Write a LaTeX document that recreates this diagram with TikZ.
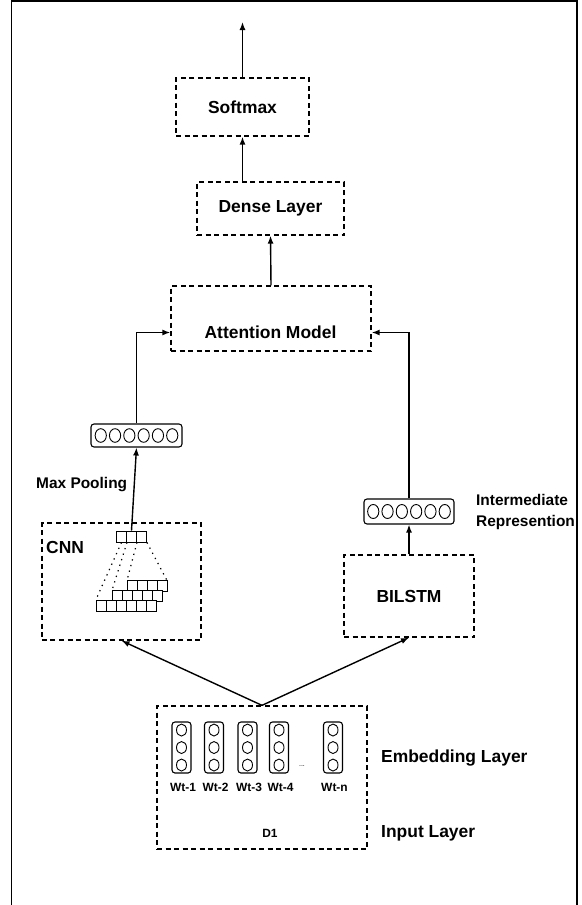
\documentclass[tikz,border=0pt]{standalone}
\usepackage{fontspec}
\setmainfont{Liberation Sans}
\usetikzlibrary{arrows.meta}

\begin{document}
\begin{tikzpicture}[x=1bp,y=-1bp,
        layer/.style={draw,dash pattern=on 5bp off 3.5bp,line width=1.3bp,
            inner sep=0pt,font=\fontsize{17.5}{20}\selectfont\bfseries},
        boxtext/.style={inner sep=0pt,font=\fontsize{17.5}{20}\selectfont\bfseries},
        note/.style={inner sep=0pt,align=left,
            font=\fontsize{15.5}{22}\selectfont\bfseries},
        small/.style={inner sep=0pt,font=\fontsize{12}{14}\selectfont\bfseries},
        vec/.style={draw,rounded corners=3bp,line width=1.1bp,inner sep=0pt},
        cell/.style={draw,fill=white,line width=0.9bp,minimum width=10bp,
            minimum height=11bp,inner sep=0pt},
        link/.style={line width=1.4bp,-{Latex[length=8bp,width=6bp]}}]
    \useasboundingbox (0,0) rectangle (582,905);
    \draw[line width=1.8bp] (11.5,910) -- (11.5,1) -- (577,1) -- (577,910);

    % upper layers
    \node[layer,minimum width=133bp,minimum height=58bp] (softmax) at (242.5,107) {Softmax};
    \node[layer,minimum width=147bp,minimum height=53bp] (dense) at (270.5,208.5) {Dense Layer};
    \node[layer,minimum width=200bp,minimum height=65bp] (attn) at (271,318.5) {};
    \node[boxtext] (attntxt) at (270.5,332.5) {Attention Model};
    \coordinate (out) at (242.5,22);

    \draw[link] (softmax.north) -- (out);
    \draw[link] (dense.north -| softmax.south) -- (softmax.south);
    \draw[link] (attn.north) -- (dense.south);

    % CNN branch
    \node[vec,minimum width=91bp,minimum height=23bp] (poolvec) at (136.5,435.5) {};
    \foreach \i in {1,...,6}
        \draw[line width=0.9bp] ([xshift={(\i-3.5)*14.3bp}]poolvec.center) ellipse (5.6bp and 6.8bp);
    \node[note,anchor=west] (pooltxt) at (36,485) {Max Pooling};
    \node[layer,minimum width=159bp,minimum height=117bp] (cnn) at (121.5,581.5) {};
    \node[boxtext,anchor=west] (cnntxt) at (46,547) {CNN};

    \foreach \i in {1,2,3}
        \node[cell] (filt\i) at (111.5+\i*10,536.5) {};
    \draw[dash pattern=on 1.3bp off 4.5bp,line width=1.2bp] (filt1.south) -- (96,599.5);
    \draw[dash pattern=on 1.3bp off 4.5bp,line width=1.2bp] (filt1.south east) -- (112,590.5);
    \draw[dash pattern=on 1.3bp off 4.5bp,line width=1.2bp] (filt2.south east) -- (127,580.5);
    \draw[dash pattern=on 1.3bp off 4.5bp,line width=1.2bp] (filt3.south east) -- (167,580.5);
    \foreach \i in {1,...,4}
        \node[cell] (top\i) at (122+\i*10,586) {};
    \foreach \i in {1,...,5}
        \node[cell] (mid\i) at (107+\i*10,596) {};
    \foreach \i in {1,...,6}
        \node[cell] (bot\i) at (91+\i*10,605.5) {};

    \draw[link] (filt2.north) -- (poolvec.south);
    \draw[link] (poolvec.north) |- (attn.west |- attntxt.center);

    % BILSTM branch
    \node[vec,minimum width=90bp,minimum height=25bp] (imvec) at (409,511.5) {};
    \foreach \i in {1,...,6}
        \draw[line width=0.9bp] ([xshift={(\i-3.5)*14.3bp}]imvec.center) ellipse (5.6bp and 7bp);
    \node[note,anchor=west] (imtxt) at (476,512) {Intermediate\\Represention};
    \node[layer,minimum width=130bp,minimum height=82bp] (bilstm) at (409,596) {BILSTM};

    \draw[link] (bilstm.north) -- (imvec.south);
    \draw[link] (imvec.north) |- (attn.east |- attntxt.center);

    % input
    \node[layer,minimum width=210bp,minimum height=143bp] (input) at (262,777.5) {};
    \foreach \x/\n in {181.5/1,214/2,247.5/3,279/4,333/n} {
        \node[vec,minimum width=19bp,minimum height=51bp] (emb\n) at (\x,747.5) {};
        \foreach \k in {-1,0,1}
            \draw[line width=0.9bp] ([yshift={\k*17.5bp}]emb\n.center) ellipse (5bp and 6bp);
        \node[small] (wt\n) at (\x+1.5,787) {Wt-\n};
    }
    \node[inner sep=0pt,font=\fontsize{7}{8}\selectfont] (edots) at (302,766) {...};
    \node[small] (d1) at (270,833) {D1};
    \node[boxtext,anchor=west] (embtxt) at (381,758) {Embedding Layer};
    \node[boxtext,anchor=west] (inputtxt) at (381,833) {Input Layer};

    \draw[link] (input.north) -- (cnn.south);
    \draw[link] (input.north) -- (bilstm.south);
\end{tikzpicture}
\end{document}
